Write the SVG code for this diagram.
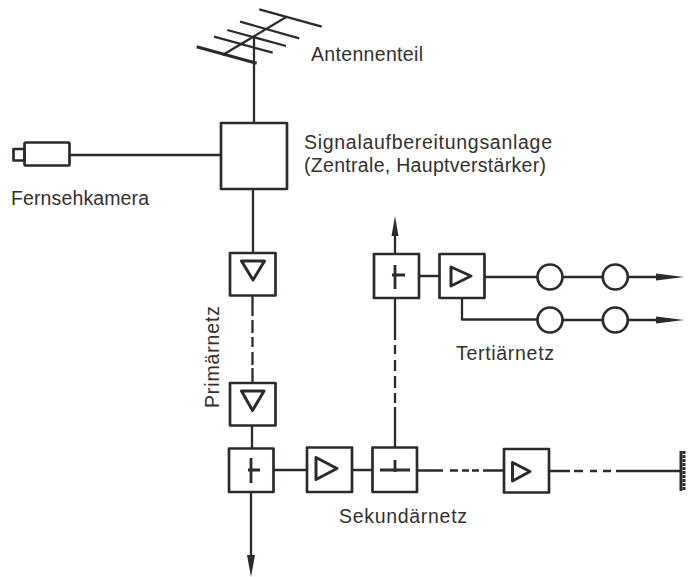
<svg xmlns="http://www.w3.org/2000/svg" width="694" height="577" viewBox="0 0 694 577">
<style>
.l{fill:none;stroke:#2e2a28;stroke-width:2.300;stroke-linecap:butt;stroke-linejoin:round}
.b{fill:none;stroke:#2e2a28;stroke-width:2.700;stroke-linejoin:round}
.a{fill:#2e2a28;stroke:none}
text{font-family:"Liberation Sans",Arial,sans-serif;font-size:19.500px;fill:#33302e}
</style>
<rect width="694" height="577" fill="#ffffff"/>
<g id="connectors">
<path class="l" d="M254 36V123M70 155H221M253 189V253M252.500 295V316M252.500 320V333M252.500 337V347M252.500 352V365M252.500 368V383M252 425V448"/>
<path class="l" d="M251 492V556M273 470H307M352 470H372M417 470.500H443M450 470.500H458M462 470.500H469M472 470.500H479M483 470.500H504M549 471H570M574 471H583M590 471H597M603 471H611M616 471H682"/>
<path class="l" d="M395 447V407M395 403V393M395 388V376M395 371V360M395 354V345M395 340V298M395 254V234M419 276H439M485 277H537M563 277H602M628 277H660M462 298V319.500H537M563 320H602M628 320H660"/>
<path class="a" d="M395 216L398.500 236H391.500ZM684 277L656 273.500V280.500ZM684 320L656 316.500V323.500ZM251 577L247 555H255Z"/>
<path d="M681 451V491" fill="none" stroke="#2e2a28" stroke-width="3"/>
<path d="M684 451V491" fill="none" stroke="#2e2a28" stroke-width="3" stroke-dasharray="3 1"/>
</g>
<g id="antenne"><path class="l" d="M259.300 9.300L321.700 26.700M240 21.700L299.300 38.300M227.300 30L286 46M214 36.700L272.700 52.700M286.700 16.700L222.700 55"/><path class="l" style="stroke-width:3" d="M196.700 46.700L256.700 63.300"/></g>
<g id="zentrale"><rect class="b" x="221" y="123" width="66" height="66"/></g>
<g id="kamera"><rect class="b" x="24.500" y="142.500" width="45" height="23" rx="1.500"/><rect class="b" x="13.500" y="149" width="11" height="11.500"/></g>
<g id="verstaerker1"><rect class="b" x="230" y="253" width="45.500" height="42.500"/><path class="b" style="stroke-width:3" d="M241.500 261H264.500L253 280Z"/></g>
<g id="verstaerker2"><rect class="b" x="230" y="383" width="45.500" height="42.500"/><path class="b" style="stroke-width:3" d="M241.500 391H264L252.500 410.500Z"/></g>
<g id="abzweig1"><rect class="b" x="229" y="448.500" width="44.500" height="43.500"/><path class="l" style="stroke-width:2.800" d="M251 458V483M248 470H260"/></g>
<g id="verstaerker3"><rect class="b" x="307" y="447.500" width="45" height="44.500"/><path class="b" style="stroke-width:3" d="M316 457.500V479.500L337 468.500Z"/></g>
<g id="abzweig2"><rect class="b" x="372.500" y="447.500" width="44.500" height="44.500"/><path class="l" style="stroke-width:2.800" d="M380 470H410M395 460V472"/></g>
<g id="verstaerker4"><rect class="b" x="504" y="449" width="45" height="43.500"/><path class="b" style="stroke-width:3" d="M512.500 462.500V481L530 471.500Z"/></g>
<g id="abzweig3"><rect class="b" x="374" y="254" width="45" height="44"/><path class="l" style="stroke-width:2.800" d="M395 265V289M392 275H405"/></g>
<g id="verstaerker5"><rect class="b" x="439.500" y="254" width="45" height="44"/><path class="b" style="stroke-width:3" d="M451 267V286L471 276Z"/></g>
<g id="kreis1"><circle class="b" cx="550" cy="277" r="12.500"/></g>
<g id="kreis2"><circle class="b" cx="615.300" cy="277" r="12.500"/></g>
<g id="kreis3"><circle class="b" cx="550" cy="320" r="12.500"/></g>
<g id="kreis4"><circle class="b" cx="615.300" cy="320" r="12.500"/></g>
<text x="311" y="61" textLength="112">Antennenteil</text>
<text x="304" y="149" textLength="248">Signalaufbereitungsanlage</text>
<text x="304" y="172" textLength="242">(Zentrale, Hauptverstärker)</text>
<text x="11" y="205" textLength="138">Fernsehkamera</text>
<text x="456" y="360" textLength="98">Tertiärnetz</text>
<text x="339" y="523" textLength="128">Sekundärnetz</text>
<text transform="translate(219 408) rotate(-90)" x="0" y="0" textLength="102">Primärnetz</text>
</svg>
